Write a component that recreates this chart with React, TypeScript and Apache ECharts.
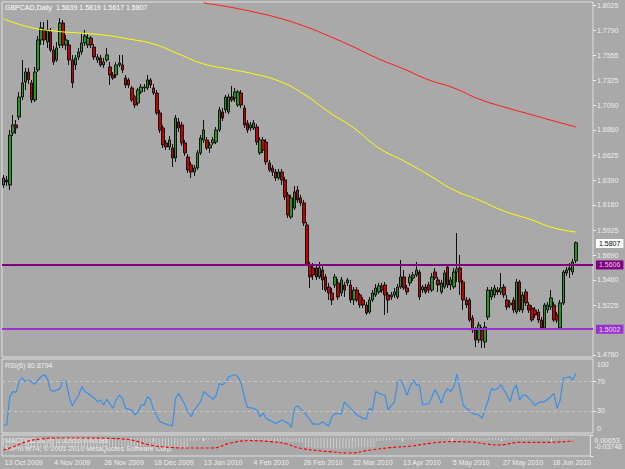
import React, { useEffect, useRef } from 'react';
import * as echarts from 'echarts';

const SYMBOL_TITLE = 'GBPCAD,Daily  1.5639 1.5819 1.5617 1.5807';
const RSI_TITLE = 'RSI(6) 80.8794';
const MACD_TITLE = 'MACD(12,26,9) 0.00955 0.00088';
const COPYRIGHT = 'FxPro MT4, \u00a9 2001-2010 MetaQuotes Software Corp.';

const SLOT_COUNT = 189;
const HOLIDAYS = ['2009-12-25', '2010-01-01'];
const MONTHS = ['Jan', 'Feb', 'Mar', 'Apr', 'May', 'Jun', 'Jul', 'Aug', 'Sep', 'Oct', 'Nov', 'Dec'];

function buildDates(): string[] {
  const out: string[] = [];
  const d = new Date(Date.UTC(2009, 9, 13));
  while (out.length < SLOT_COUNT) {
    const dow = d.getUTCDay();
    const iso = d.toISOString().slice(0, 10);
    if (dow !== 0 && dow !== 6 && !HOLIDAYS.includes(iso)) {
      out.push(`${d.getUTCDate()} ${MONTHS[d.getUTCMonth()]} ${d.getUTCFullYear()}`);
    }
    d.setUTCDate(d.getUTCDate() + 1);
  }
  return out;
}
const dates = buildDates();

// [open, close, low, high]
const ohlc: number[][] = [
  [1.6346, 1.6411, 1.6318, 1.6439], [1.6393, 1.6374, 1.6337, 1.6430], [1.6346, 1.6812, 1.6299, 1.6859], [1.6831, 1.6906, 1.6803, 1.6999],
  [1.6906, 1.6878, 1.6822, 1.6952], [1.6980, 1.7167, 1.6952, 1.7214], [1.7167, 1.7298, 1.7139, 1.7512], [1.7307, 1.7400, 1.7232, 1.7438],
  [1.7400, 1.7326, 1.7288, 1.7438], [1.7298, 1.7139, 1.7111, 1.7326], [1.7139, 1.7400, 1.7120, 1.7447], [1.7419, 1.7699, 1.7400, 1.7736],
  [1.7699, 1.7811, 1.7652, 1.7867], [1.7792, 1.7699, 1.7652, 1.7867], [1.7680, 1.7792, 1.7624, 1.7885], [1.7773, 1.7605, 1.7587, 1.7811],
  [1.7605, 1.7494, 1.7466, 1.7643], [1.7512, 1.7624, 1.7494, 1.7680], [1.7652, 1.7857, 1.7624, 1.7904], [1.7857, 1.7652, 1.7624, 1.7885],
  [1.7652, 1.7699, 1.7605, 1.7745], [1.7652, 1.7512, 1.7466, 1.7699], [1.7512, 1.7298, 1.7251, 1.7559], [1.7466, 1.7531, 1.7419, 1.7559],
  [1.7540, 1.7587, 1.7512, 1.7624], [1.7587, 1.7671, 1.7559, 1.7764], [1.7671, 1.7736, 1.7643, 1.7792], [1.7652, 1.7717, 1.7624, 1.7755],
  [1.7717, 1.7652, 1.7624, 1.7736], [1.7633, 1.7540, 1.7512, 1.7661], [1.7512, 1.7540, 1.7484, 1.7568], [1.7531, 1.7466, 1.7447, 1.7559],
  [1.7466, 1.7494, 1.7438, 1.7531], [1.7512, 1.7559, 1.7494, 1.7624], [1.7447, 1.7372, 1.7279, 1.7494], [1.7372, 1.7344, 1.7326, 1.7400],
  [1.7372, 1.7466, 1.7344, 1.7494], [1.7466, 1.7484, 1.7447, 1.7559], [1.7466, 1.7419, 1.7391, 1.7559], [1.7344, 1.7279, 1.7251, 1.7372],
  [1.7326, 1.7279, 1.7251, 1.7344], [1.7251, 1.7139, 1.7120, 1.7270], [1.7167, 1.7092, 1.7064, 1.7186], [1.7111, 1.7232, 1.7083, 1.7251],
  [1.7214, 1.7260, 1.7195, 1.7288], [1.7251, 1.7260, 1.7214, 1.7288], [1.7251, 1.7326, 1.7232, 1.7372], [1.7326, 1.7279, 1.7251, 1.7344],
  [1.7251, 1.7204, 1.7186, 1.7288], [1.7204, 1.7018, 1.6999, 1.7232], [1.7018, 1.6859, 1.6831, 1.7046], [1.6878, 1.6719, 1.6691, 1.6906],
  [1.6738, 1.6700, 1.6672, 1.6766], [1.6700, 1.6766, 1.6672, 1.6803], [1.6691, 1.6598, 1.6514, 1.6728], [1.6598, 1.6971, 1.6561, 1.6999],
  [1.6934, 1.6878, 1.6840, 1.6971], [1.6906, 1.6738, 1.6710, 1.6934], [1.6738, 1.6645, 1.6617, 1.6766], [1.6607, 1.6486, 1.6458, 1.6635],
  [1.6533, 1.6467, 1.6411, 1.6561], [1.6467, 1.6505, 1.6430, 1.6533], [1.6505, 1.6645, 1.6486, 1.6672], [1.6645, 1.6784, 1.6626, 1.6812],
  [1.6766, 1.6859, 1.6738, 1.6952], [1.6766, 1.6691, 1.6672, 1.6794], [1.6691, 1.6719, 1.6645, 1.6747], [1.6738, 1.6766, 1.6719, 1.6794],
  [1.6747, 1.6859, 1.6728, 1.6887], [1.6859, 1.7046, 1.6840, 1.7074], [1.7027, 1.6971, 1.6943, 1.7064], [1.7046, 1.7167, 1.7018, 1.7186],
  [1.7027, 1.7167, 1.7008, 1.7195], [1.7167, 1.7139, 1.7120, 1.7270], [1.7158, 1.7214, 1.7120, 1.7251], [1.7092, 1.7214, 1.7074, 1.7232],
  [1.7204, 1.7092, 1.7064, 1.7232], [1.7064, 1.6906, 1.6878, 1.7092], [1.6924, 1.6859, 1.6831, 1.6952], [1.6878, 1.6906, 1.6850, 1.6934],
  [1.6878, 1.6924, 1.6859, 1.6952], [1.6887, 1.6747, 1.6719, 1.6915], [1.6645, 1.6766, 1.6626, 1.6794], [1.6766, 1.6672, 1.6645, 1.6794],
  [1.6747, 1.6561, 1.6533, 1.6775], [1.6551, 1.6486, 1.6467, 1.6579], [1.6505, 1.6467, 1.6430, 1.6533], [1.6467, 1.6411, 1.6383, 1.6495],
  [1.6411, 1.6467, 1.6393, 1.6495], [1.6467, 1.6393, 1.6346, 1.6495], [1.6393, 1.6234, 1.6206, 1.6421], [1.6253, 1.6066, 1.6038, 1.6281],
  [1.6047, 1.6225, 1.6029, 1.6253], [1.6131, 1.6281, 1.6113, 1.6337], [1.6299, 1.6206, 1.6178, 1.6337], [1.6225, 1.6178, 1.6150, 1.6253],
  [1.6178, 1.5991, 1.5963, 1.6206], [1.5973, 1.5600, 1.5590, 1.6001], [1.5600, 1.5488, 1.5385, 1.5628], [1.5572, 1.5506, 1.5460, 1.5618],
  [1.5572, 1.5488, 1.5460, 1.5600], [1.5488, 1.5572, 1.5469, 1.5628], [1.5553, 1.5460, 1.5366, 1.5600], [1.5488, 1.5366, 1.5348, 1.5516],
  [1.5394, 1.5338, 1.5273, 1.5432], [1.5338, 1.5273, 1.5226, 1.5385], [1.5413, 1.5488, 1.5385, 1.5516], [1.5432, 1.5301, 1.5273, 1.5469],
  [1.5338, 1.5460, 1.5310, 1.5488], [1.5413, 1.5366, 1.5301, 1.5441], [1.5432, 1.5460, 1.5404, 1.5478], [1.5413, 1.5273, 1.5245, 1.5460],
  [1.5273, 1.5366, 1.5226, 1.5394], [1.5366, 1.5273, 1.5254, 1.5394], [1.5320, 1.5226, 1.5198, 1.5338], [1.5273, 1.5226, 1.5198, 1.5301],
  [1.5226, 1.5152, 1.5133, 1.5254], [1.5161, 1.5273, 1.5142, 1.5301], [1.5273, 1.5338, 1.5254, 1.5366], [1.5320, 1.5385, 1.5301, 1.5422],
  [1.5348, 1.5404, 1.5329, 1.5432], [1.5404, 1.5366, 1.5338, 1.5432], [1.5413, 1.5320, 1.5133, 1.5441], [1.5320, 1.5273, 1.5152, 1.5348],
  [1.5301, 1.5320, 1.5273, 1.5348], [1.5320, 1.5348, 1.5292, 1.5385], [1.5301, 1.5394, 1.5282, 1.5422], [1.5394, 1.5488, 1.5376, 1.5646],
  [1.5488, 1.5385, 1.5366, 1.5553], [1.5385, 1.5348, 1.5320, 1.5413], [1.5432, 1.5488, 1.5404, 1.5516], [1.5478, 1.5506, 1.5450, 1.5534],
  [1.5506, 1.5553, 1.5488, 1.5628], [1.5534, 1.5301, 1.5273, 1.5553], [1.5366, 1.5394, 1.5338, 1.5413], [1.5394, 1.5348, 1.5329, 1.5422],
  [1.5413, 1.5366, 1.5338, 1.5441], [1.5366, 1.5488, 1.5348, 1.5525], [1.5534, 1.5478, 1.5460, 1.5572], [1.5460, 1.5413, 1.5348, 1.5488],
  [1.5348, 1.5432, 1.5329, 1.5460], [1.5394, 1.5525, 1.5376, 1.5553], [1.5581, 1.5413, 1.5385, 1.5609], [1.5413, 1.5460, 1.5366, 1.5488],
  [1.5394, 1.5534, 1.5376, 1.5572], [1.5534, 1.5562, 1.5441, 1.5898], [1.5572, 1.5441, 1.5320, 1.5693], [1.5441, 1.5273, 1.5180, 1.5460],
  [1.5273, 1.5226, 1.5198, 1.5301], [1.5273, 1.5086, 1.5068, 1.5292], [1.5105, 1.4993, 1.4965, 1.5133], [1.4993, 1.4900, 1.4834, 1.5021],
  [1.4900, 1.5040, 1.4872, 1.5068], [1.4993, 1.4900, 1.4825, 1.5021], [1.4881, 1.5021, 1.4825, 1.5068], [1.5114, 1.5366, 1.5086, 1.5394],
  [1.5301, 1.5366, 1.5273, 1.5394], [1.5320, 1.5385, 1.5292, 1.5413], [1.5366, 1.5348, 1.5320, 1.5394], [1.5348, 1.5385, 1.5320, 1.5525],
  [1.5394, 1.5320, 1.5292, 1.5422], [1.5273, 1.5208, 1.5180, 1.5320], [1.5226, 1.5245, 1.5198, 1.5273], [1.5273, 1.5180, 1.5152, 1.5301],
  [1.5161, 1.5441, 1.5142, 1.5469], [1.5441, 1.5180, 1.5161, 1.5460], [1.5180, 1.5320, 1.5152, 1.5348], [1.5348, 1.5245, 1.5217, 1.5376],
  [1.5226, 1.5180, 1.5152, 1.5254], [1.5198, 1.5086, 1.5068, 1.5226], [1.5180, 1.5133, 1.5105, 1.5208], [1.5161, 1.5086, 1.5058, 1.5189],
  [1.5086, 1.5012, 1.4993, 1.5114], [1.5012, 1.5226, 1.4993, 1.5245], [1.5180, 1.5226, 1.5152, 1.5254], [1.5208, 1.5292, 1.5180, 1.5366],
  [1.5226, 1.5086, 1.5068, 1.5254], [1.5133, 1.5086, 1.5058, 1.5161], [1.5012, 1.5245, 1.4993, 1.5273], [1.5245, 1.5534, 1.5226, 1.5553],
  [1.5525, 1.5553, 1.5497, 1.5581], [1.5553, 1.5572, 1.5478, 1.5618], [1.5534, 1.5628, 1.5506, 1.5656], [1.5639, 1.5807, 1.5617, 1.5819],
];

const priceTicks = [1.8025, 1.779, 1.7555, 1.7325, 1.709, 1.686, 1.6625, 1.639, 1.616, 1.5925, 1.569, 1.546, 1.5225, 1.476];
const PRICE_MIN = 1.4741;
const PRICE_MAX = 1.8053;
const resistanceLevel = 1.5606;
const supportLevel = 1.5002;
const lastClose = 1.5807;

// [bar index, value]
const maYellow = [
  [0, 1.7895], [8, 1.782], [16, 1.7783], [24, 1.7764], [32, 1.7745], [40, 1.7708], [48, 1.7661], [56, 1.7568],
  [64, 1.7475], [72, 1.7428], [80, 1.7382], [88, 1.7316], [96, 1.7195], [104, 1.7027], [112, 1.6878], [120, 1.6691],
  [128, 1.657], [136, 1.6439], [144, 1.6299], [152, 1.6206], [160, 1.6103], [168, 1.6029], [176, 1.5945], [183, 1.5908],
];
const maRed = [
  [64, 1.8044], [72, 1.8007], [80, 1.796], [88, 1.7904], [96, 1.7829], [104, 1.7736], [112, 1.7633], [120, 1.7522],
  [128, 1.7428], [136, 1.7326], [144, 1.7251], [152, 1.7148], [160, 1.7074], [168, 1.7008], [176, 1.6943], [183, 1.6887],
];

const rsi = [
  [0, 10.8], [1, 10.8], [2, 49], [3, 55.9], [4, 55], [5, 69], [6, 75], [7, 69], [8, 71.6], [10, 66], [11, 71.6], [12, 76],
  [13, 79], [14, 74], [15, 58], [16, 56], [18, 60], [19, 70.7], [20, 69], [21, 49], [22, 36.5], [23, 44.6], [24, 51],
  [25, 62.6], [26, 56], [27, 53.6], [29, 47], [30, 42.3], [31, 44.6], [32, 37.8], [33, 45.5], [35, 33.3], [36, 44.6],
  [37, 51], [38, 47], [39, 33.3], [41, 31], [42, 24.3], [43, 28.8], [44, 37.8], [45, 37.8], [46, 49], [47, 45.5], [48, 31],
  [50, 15.3], [52, 12], [54, 9.5], [55, 47], [56, 53.6], [58, 37.8], [59, 28.8], [60, 22], [61, 31], [63, 42.3], [64, 56],
  [66, 49], [67, 45.5], [68, 51], [69, 67], [70, 65], [71, 69], [72, 76], [74, 79], [75, 76], [76, 67], [77, 49], [78, 34.7],
  [80, 33.3], [81, 31], [82, 22], [83, 26.6], [84, 19.8], [86, 15.3], [87, 13], [89, 17.6], [91, 13], [92, 7.7], [93, 33.3],
  [94, 37], [96, 28.8], [98, 17.6], [99, 12], [101, 12], [102, 15.3], [103, 12], [104, 9.5], [105, 22], [106, 26.6],
  [108, 25.7], [109, 42.3], [110, 37], [111, 33.3], [113, 24.3], [115, 19.8], [116, 19], [117, 33.3], [118, 31], [119, 56],
  [120, 53.6], [122, 51], [123, 31], [124, 37], [125, 42.3], [126, 69], [127, 71.6], [128, 62.6], [129, 51], [130, 62.6],
  [131, 71.6], [132, 65], [133, 65], [134, 37.8], [136, 40], [137, 49], [138, 58.6], [139, 51], [140, 40], [141, 53.6],
  [142, 60], [143, 55.9], [144, 62.6], [145, 79.7], [146, 58], [147, 37.8], [148, 33.3], [149, 31], [150, 26.6], [152, 24.3],
  [153, 19.8], [155, 44.6], [156, 60], [157, 58], [158, 60], [159, 65], [160, 58], [161, 51], [162, 42.3], [163, 58],
  [164, 65], [165, 44.6], [166, 51], [167, 51], [169, 42.3], [170, 37], [171, 41], [173, 42.3], [174, 45.5], [175, 49],
  [176, 53.6], [177, 33.3], [178, 44.6], [179, 74], [181, 76], [182, 71.6], [183, 80.88],
];
const rsiLevels = [70, 30];
const rsiTicks = [100, 70, 30, 0];

const macdSignal = [
  [0, -0.0249], [3, -0.0186], [7, -0.0081], [12, -0.0018], [18, 0.0002], [25, 0.0002], [35, -0.0008], [41, -0.0039],
  [47, -0.0144], [54, -0.0197], [58, -0.0207], [67, -0.0207], [73, -0.0102], [79, -0.0054], [86, -0.0075], [91, -0.0123],
  [95, -0.0207], [102, -0.027], [105, -0.0285], [111, -0.0312], [118, -0.0249], [124, -0.0201], [131, -0.0165],
  [137, -0.0109], [145, -0.0075], [150, -0.0081], [155, -0.0123], [159, -0.0144], [166, -0.0088], [175, -0.0088], [183, -0.006],
];
const macdHist = [
  -0.018, -0.019, -0.019, -0.02, -0.02, -0.021, -0.021, -0.021, -0.02, -0.02,
  -0.021, -0.021, -0.022, -0.022, -0.021, -0.021, -0.02, -0.02, -0.021, -0.021,
  -0.021, -0.02, -0.02, -0.019, -0.019, -0.02, -0.02, -0.019, -0.019, -0.019,
  -0.018, -0.018, -0.019, -0.019, -0.018, -0.018, -0.018, -0.017, -0.017, -0.017,
  -0.018, -0.018, -0.017, -0.017, -0.017, -0.016, -0.016, -0.017, -0.017, -0.018,
  -0.019, -0.019, -0.02, -0.02, -0.02, -0.019, -0.019, -0.02, -0.02, -0.02,
  -0.006, -0.006, -0.005, -0.005, -0.004, -0.004, -0.004, -0.003, -0.003, -0.003,
  -0.003, -0.003, -0.002, -0.002, -0.002, -0.002, -0.002, -0.003, -0.003, -0.003,
  -0.003, -0.004, -0.004, -0.004, -0.005, -0.005, -0.005, -0.006, -0.006, -0.006,
  -0.007, -0.007, -0.008, -0.008, -0.008, -0.009, -0.009, -0.018, -0.019, -0.019,
  -0.02, -0.02, -0.021, -0.021, -0.021, -0.022, -0.022, -0.022, -0.022, -0.022,
  -0.021, -0.021, -0.021, -0.02, -0.02, -0.02, -0.019, -0.019, -0.019, -0.018,
  -0.006, -0.006, -0.005, -0.005, -0.005, -0.004, -0.004, -0.004, -0.003, -0.003,
  -0.003, -0.003, -0.003, -0.002, -0.002, -0.002, -0.002, -0.002, -0.002, -0.002,
  -0.002, -0.002, -0.002, -0.002, -0.002, -0.002, -0.003, -0.003, -0.003, -0.004,
  -0.004, -0.005, -0.005, -0.005, -0.005, -0.005, -0.004, -0.004, -0.004, -0.004,
  -0.004, -0.004, -0.003, -0.003, -0.003, -0.003, -0.003, -0.003, -0.003, -0.003,
  -0.003, -0.003, -0.003, -0.003, -0.003, -0.003, -0.003, -0.003, -0.002, -0.002,
  -0.002, -0.002, -0.002, -0.002,
];
const MACD_MAX = 0.00653;
const MACD_MIN = -0.03748;

const BG = '#a9a9a9';
const FG = '#eeeeee';
const FONT = '"Liberation Sans", Arial, sans-serif';
const FS = 7;

export default function App() {
  const ref = useRef<HTMLDivElement>(null);
  useEffect(() => {
    if (!ref.current) return;
    const chart = echarts.init(ref.current, undefined, { renderer: 'svg' });
    const gridBase = { left: 2, right: 32, show: true, borderColor: '#dedede', borderWidth: 1, backgroundColor: 'transparent' };
    const hiddenX = (gi: number) => ({ type: 'category', gridIndex: gi, data: dates, boundaryGap: true, show: false });
    const lineLabel = (text: string, bg: string, color: string) => ({
      show: true, position: 'end', distance: 3, formatter: text, backgroundColor: bg, color,
      fontSize: FS, fontFamily: FONT, padding: [1, 3, 0, 3], lineHeight: 8,
    });
    const macdAxis = (value: number, pad: number[]) => ({
      type: 'value', gridIndex: 2, position: 'right', min: MACD_MIN, max: MACD_MAX,
      axisLine: { show: false }, splitLine: { show: false },
      axisTick: { show: true, customValues: [value], length: 3, lineStyle: { color: FG } },
      axisLabel: {
        customValues: [value], margin: 4, hideOverlap: false,
        formatter: (v: number) => `{t|${v.toFixed(5)}}`,
        rich: { t: { padding: pad, color: FG, fontSize: FS, fontFamily: FONT } },
      },
    });
    chart.setOption({
      animation: false,
      backgroundColor: BG,
      textStyle: { fontFamily: FONT },
      grid: [
        { ...gridBase, top: 2, height: 355 },
        { ...gridBase, top: 359, height: 74 },
        { ...gridBase, top: 435, height: 21 },
      ],
      xAxis: [
        hiddenX(0),
        hiddenX(1),
        {
          type: 'category', gridIndex: 2, data: dates, boundaryGap: true,
          axisLine: { show: false },
          axisTick: { show: true, interval: 15, alignWithLabel: true, length: 3, lineStyle: { color: FG } },
          axisLabel: { interval: 15, align: 'left', color: FG, fontSize: FS, fontFamily: FONT, margin: 3, padding: [0, 0, 0, 1] },
          splitLine: { show: false },
        },
      ],
      yAxis: [
        {
          type: 'value', gridIndex: 0, position: 'right', min: PRICE_MIN, max: PRICE_MAX,
          axisLine: { show: false }, splitLine: { show: false },
          axisTick: { show: true, customValues: priceTicks, length: 3, lineStyle: { color: FG } },
          axisLabel: { customValues: priceTicks, formatter: (v: number) => v.toFixed(4), color: FG, fontSize: FS, fontFamily: FONT, margin: 4 },
        },
        {
          type: 'value', gridIndex: 1, position: 'right', min: 0, max: 100,
          axisLine: { show: false }, splitLine: { show: false },
          axisTick: { show: true, customValues: rsiLevels, length: 3, lineStyle: { color: FG } },
          axisLabel: {
            customValues: rsiTicks, margin: 4, color: FG, fontSize: FS, fontFamily: FONT,
            formatter: (v: number) => (v === 100 ? `{top|${v}}` : v === 0 ? `{bot|${v}}` : `{mid|${v}}`),
            rich: {
              top: { padding: [10, 0, 0, 0], color: FG, fontSize: FS, fontFamily: FONT },
              bot: { padding: [0, 0, 10, 0], color: FG, fontSize: FS, fontFamily: FONT },
              mid: { color: FG, fontSize: FS, fontFamily: FONT },
            },
          },
        },
        macdAxis(MACD_MAX, [10, 0, 0, 0]),
        macdAxis(MACD_MIN, [0, 0, 20, 0]),
      ],
      series: [
        {
          type: 'candlestick', xAxisIndex: 0, yAxisIndex: 0, data: ohlc, barWidth: 3,
          itemStyle: { color: '#1f9a1f', color0: '#c40000', borderColor: '#101010', borderColor0: '#101010', borderWidth: 1 },
          markLine: {
            silent: true, symbol: ['none', 'none'], animation: false,
            data: [
              { yAxis: resistanceLevel, lineStyle: { color: '#800080', width: 2, type: 'solid' }, label: lineLabel('1.5606', '#800080', '#f2c8f2') },
              { yAxis: supportLevel, lineStyle: { color: '#9932cc', width: 2, type: 'solid' }, label: lineLabel('1.5002', '#9932cc', '#f0dcff') },
              { yAxis: lastClose, lineStyle: { color: 'transparent', width: 0 }, label: lineLabel('1.5807', '#ffffff', '#000000') },
            ],
          },
        },
        {
          type: 'line', xAxisIndex: 0, yAxisIndex: 0, data: maYellow, showSymbol: false, smooth: true,
          lineStyle: { color: '#ffff00', width: 1 }, z: 3,
        },
        {
          type: 'line', xAxisIndex: 0, yAxisIndex: 0, data: maRed, showSymbol: false, smooth: true,
          lineStyle: { color: '#ff1a1a', width: 1 }, z: 3,
        },
        {
          type: 'line', xAxisIndex: 1, yAxisIndex: 1, data: rsi, showSymbol: false,
          lineStyle: { color: '#3d8fe6', width: 1.2 },
          markLine: {
            silent: true, symbol: ['none', 'none'], label: { show: false },
            lineStyle: { color: '#c4c4c4', type: [3, 3], width: 1 },
            data: rsiLevels.map((v) => ({ yAxis: v })),
          },
        },
        {
          type: 'bar', xAxisIndex: 2, yAxisIndex: 2, data: macdHist, barWidth: 1,
          itemStyle: { color: '#cfcfcf' },
        },
        {
          type: 'line', xAxisIndex: 2, yAxisIndex: 2, data: macdSignal, showSymbol: false, smooth: true,
          lineStyle: { color: '#ff0000', width: 1.2, type: [3, 2] }, z: 4,
        },
      ],
      graphic: [
        { type: 'text', left: 5, top: 4, style: { text: SYMBOL_TITLE, fill: '#ffffff', font: `${FS}px ${FONT}` } },
        { type: 'text', left: 5, top: 362, style: { text: RSI_TITLE, fill: FG, font: `${FS}px ${FONT}` } },
        { type: 'text', left: 5, top: 437, style: { text: MACD_TITLE, fill: FG, font: `${FS}px ${FONT}` } },
        { type: 'text', left: 5, top: 445, style: { text: COPYRIGHT, fill: FG, font: `${FS}px ${FONT}` } },
      ],
    });
    return () => chart.dispose();
  }, []);
  return <div ref={ref} style={{ position: 'fixed', left: 0, top: 0, width: 625, height: 469 }} />;
}
